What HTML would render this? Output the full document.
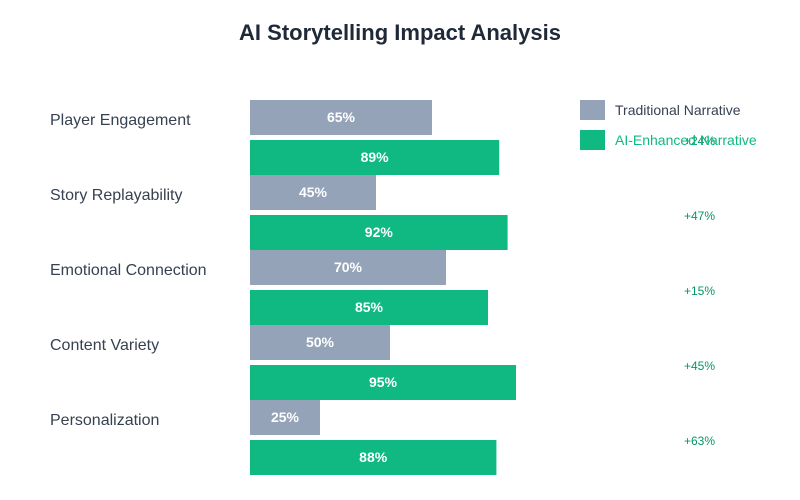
<!DOCTYPE html>
<html><head><style>body{margin:0;background:#fff}svg{display:block}</style></head>
<body>
<svg width="800" height="500" xmlns="http://www.w3.org/2000/svg" font-family="Liberation Sans, sans-serif">
<rect width="800" height="500" fill="#fff"/>
<text x="400" y="40" text-anchor="middle" font-size="22" font-weight="bold" fill="#1f2937">AI Storytelling Impact Analysis</text>
<g font-size="16" fill="#374151">
<text x="50" y="125">Player Engagement</text>
<text x="50" y="200">Story Replayability</text>
<text x="50" y="275">Emotional Connection</text>
<text x="50" y="350">Content Variety</text>
<text x="50" y="425">Personalization</text>
</g>
<g>
<rect x="250" y="100" width="182" height="35" fill="#94a3b8"/>
<rect x="250" y="140" width="249.2" height="35" fill="#10b981"/>
<rect x="250" y="175" width="126" height="35" fill="#94a3b8"/>
<rect x="250" y="215" width="257.6" height="35" fill="#10b981"/>
<rect x="250" y="250" width="196" height="35" fill="#94a3b8"/>
<rect x="250" y="290" width="238" height="35" fill="#10b981"/>
<rect x="250" y="325" width="140" height="35" fill="#94a3b8"/>
<rect x="250" y="365" width="266" height="35" fill="#10b981"/>
<rect x="250" y="400" width="70" height="35" fill="#94a3b8"/>
<rect x="250" y="440" width="246.4" height="35" fill="#10b981"/>
</g>
<g font-size="14" font-weight="bold" fill="#fff" text-anchor="middle">
<text x="341" y="122">65%</text>
<text x="374.6" y="162">89%</text>
<text x="313" y="197">45%</text>
<text x="378.8" y="237">92%</text>
<text x="348" y="272">70%</text>
<text x="369" y="312">85%</text>
<text x="320" y="347">50%</text>
<text x="383" y="387">95%</text>
<text x="285" y="422">25%</text>
<text x="373.2" y="462">88%</text>
</g>
<g font-size="12" fill="#059669">
<text x="684" y="145">+24%</text>
<text x="684" y="220">+47%</text>
<text x="684" y="295">+15%</text>
<text x="684" y="370">+45%</text>
<text x="684" y="445">+63%</text>
</g>
<rect x="580" y="100" width="25" height="20" fill="#94a3b8"/>
<text x="615" y="115" font-size="14" fill="#374151">Traditional Narrative</text>
<rect x="580" y="130" width="25" height="20" fill="#10b981"/>
<text x="615" y="145" font-size="14" fill="#10b981">AI-Enhanced Narrative</text>
</svg>
</body></html>
